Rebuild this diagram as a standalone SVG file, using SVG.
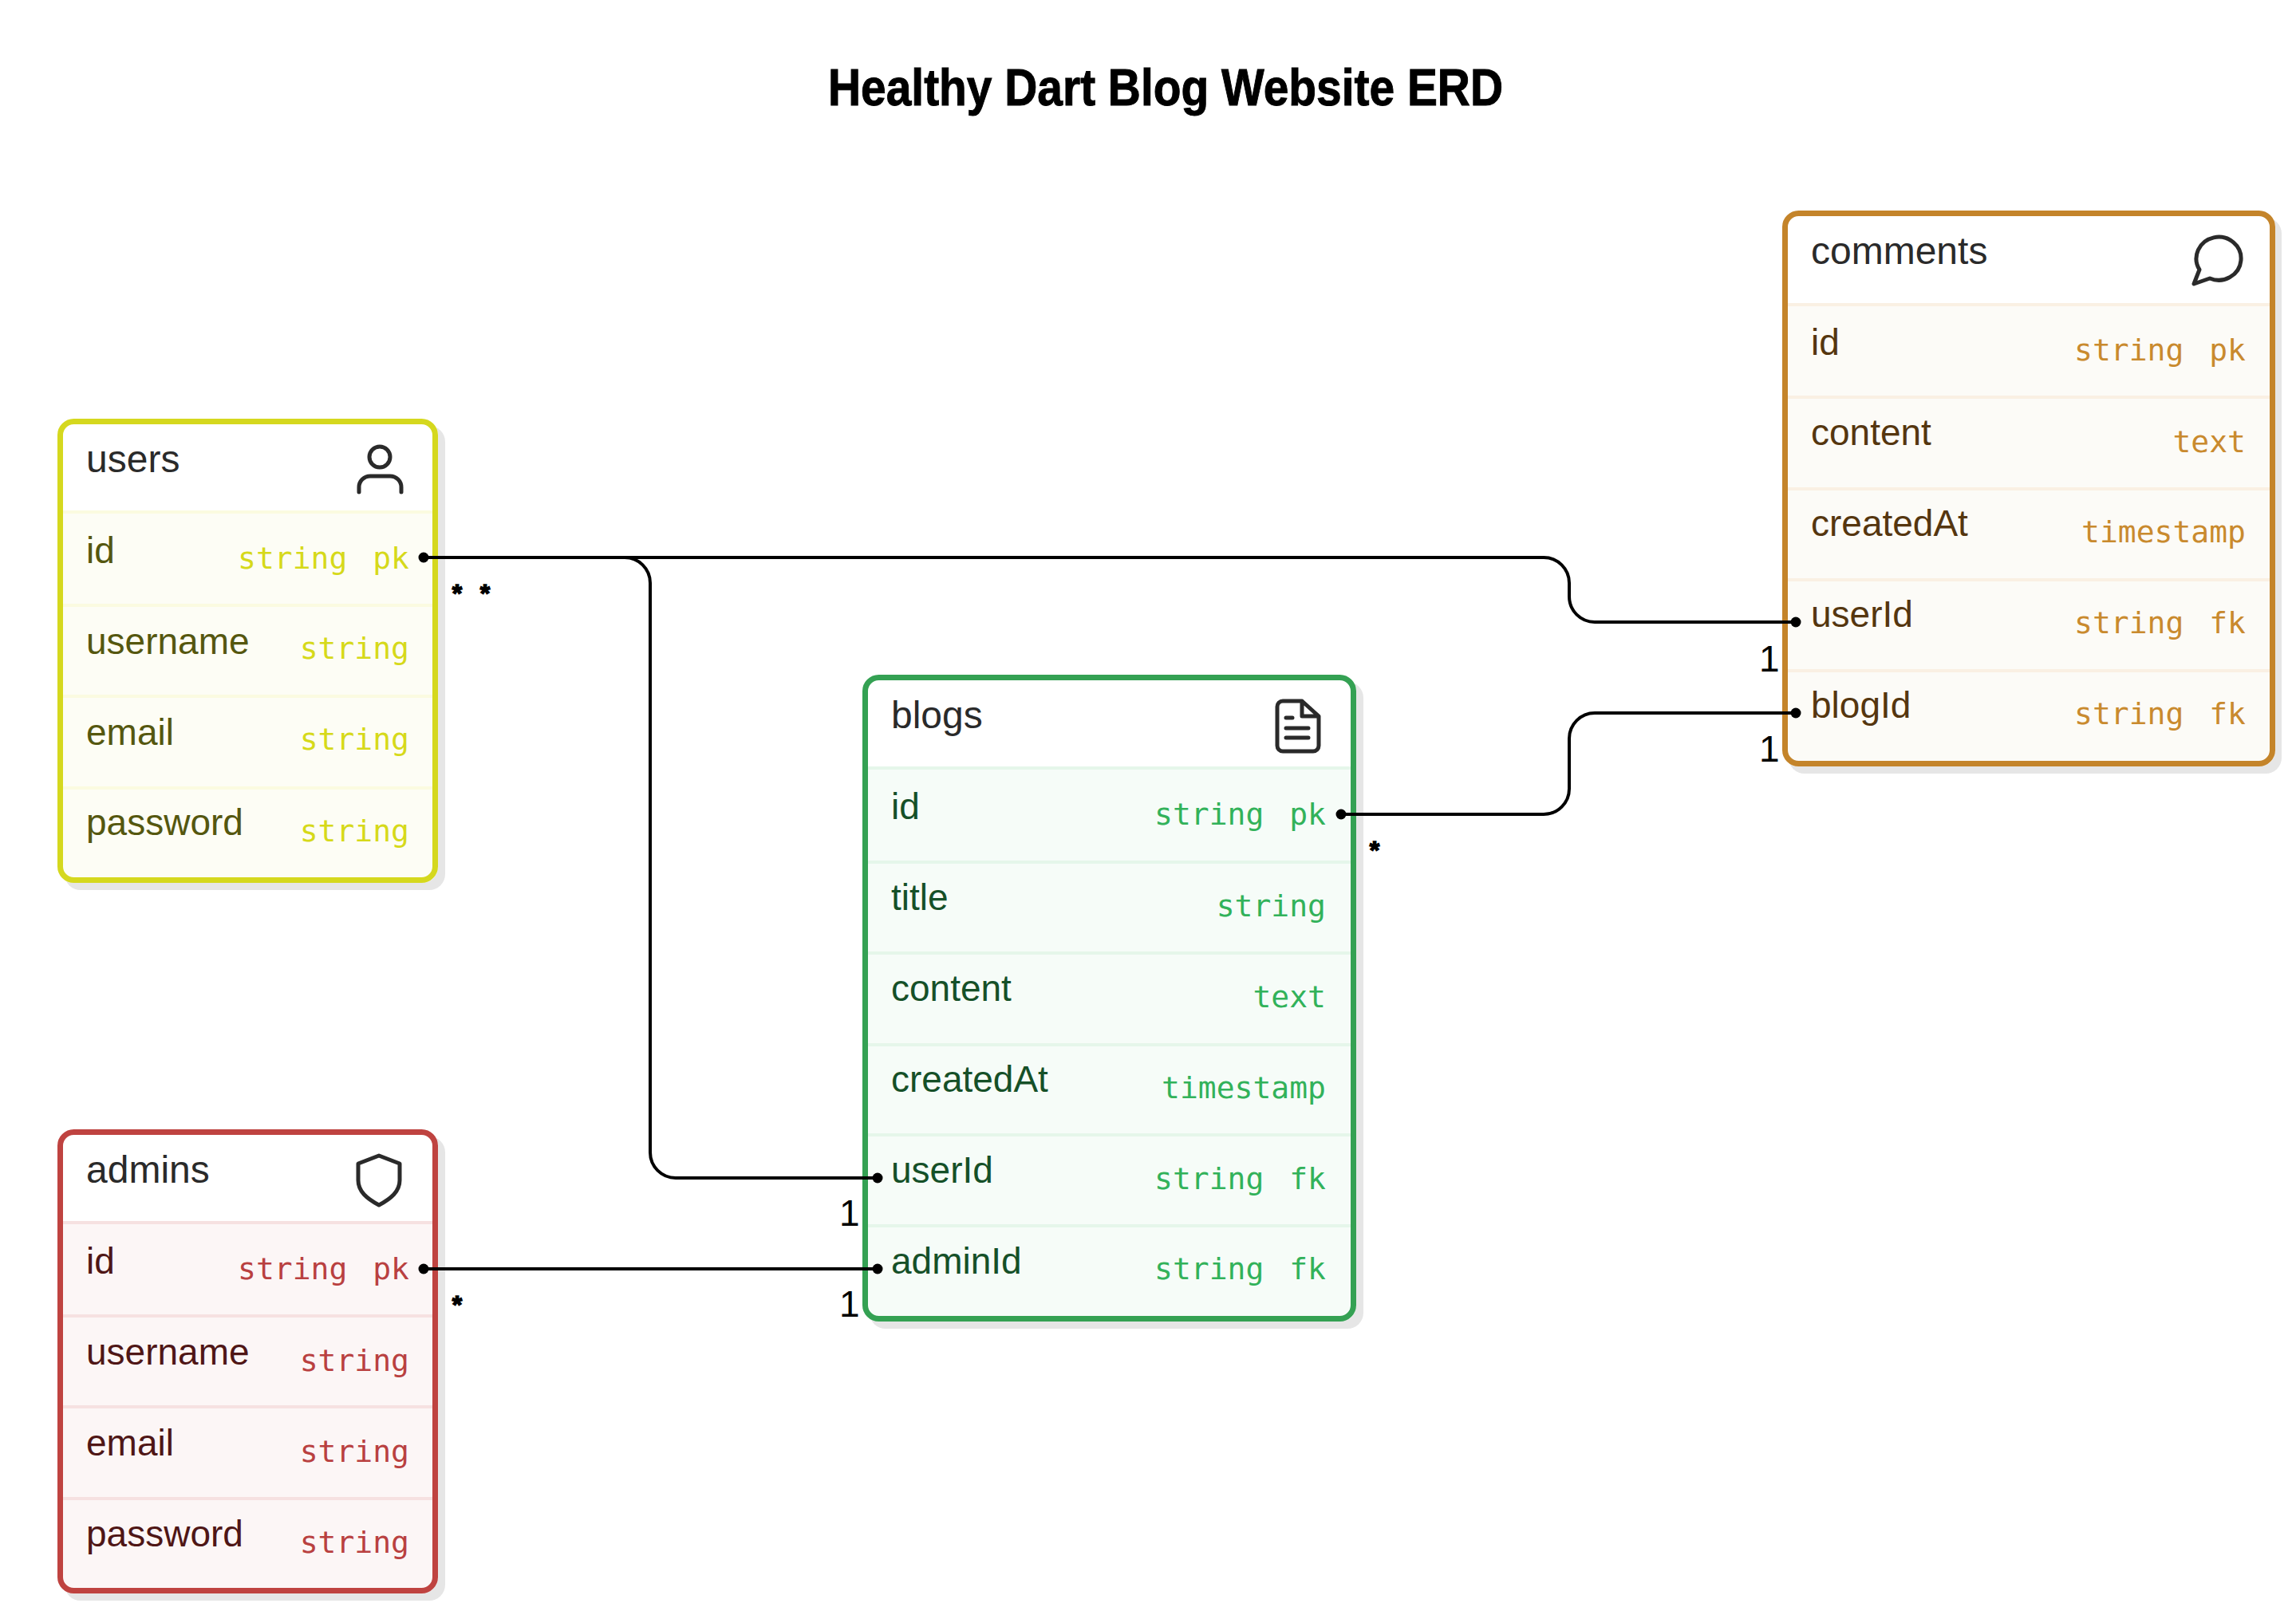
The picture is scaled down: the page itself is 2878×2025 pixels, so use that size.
<svg xmlns="http://www.w3.org/2000/svg" width="2878" height="2025" viewBox="0 0 2878 2025">
<style>
.bg{fill:#fff}
.shadow{fill:#e6e6e6}
.frame{fill:none;stroke-width:7}
.title{font:bold 64px "Liberation Sans",Arial,sans-serif;fill:#000;stroke:#000;stroke-width:1;text-anchor:middle}
.head{font:48px "Liberation Sans",Arial,sans-serif;fill:#2a2a2a}
.name{font:46px "Liberation Sans",Arial,sans-serif}
.type{font:38px "DejaVu Sans Mono",monospace;text-anchor:end;word-spacing:9px}
.card{font:46px "Liberation Sans",Arial,sans-serif;fill:#000}
.star{font:bold 32px "Liberation Sans",Arial,sans-serif;fill:#000;stroke:#000;stroke-width:1.5;text-anchor:middle}
.conn{fill:none;stroke:#000;stroke-width:4}
.dot{fill:#000}
.icon{fill:none;stroke:#2a2a2a;stroke-width:5;stroke-linecap:round;stroke-linejoin:round}
.users .row{fill:#fdfdf5}.users .sep{fill:#fbfbe0}.users .frame{stroke:#d5d81e}.users .name{fill:#55570f}.users .type{fill:#d6d91a}
.admins .row{fill:#fcf6f6}.admins .sep{fill:#f6e1e1}.admins .frame{stroke:#bf4340}.admins .name{fill:#4f1616}.admins .type{fill:#b94040}
.blogs .row{fill:#f6fcf8}.blogs .sep{fill:#e5f6ea}.blogs .frame{stroke:#34a153}.blogs .name{fill:#155028}.blogs .type{fill:#32b25a}
.comments .row{fill:#fcfbf7}.comments .sep{fill:#faf0e3}.comments .frame{stroke:#c4842a}.comments .name{fill:#55360f}.comments .type{fill:#c98a2e}
</style>
<rect width="2878" height="2025" fill="#fff"/>
<text class="title" x="1461" y="132" textLength="846" lengthAdjust="spacingAndGlyphs">Healthy Dart Blog Website ERD</text>

<g id="users" class="users">
<rect class="shadow" x="81" y="534" width="477" height="582" rx="20"/>
<rect class="bg" x="72" y="525" width="477" height="582" rx="20"/>
<path class="row" d="M76 643H545V1083a20 20 0 0 1-20 20H96a20 20 0 0 1-20-20Z"/>
<rect class="sep" x="76" y="640" width="469" height="4"/><rect class="sep" x="76" y="757" width="469" height="4"/><rect class="sep" x="76" y="871" width="469" height="4"/><rect class="sep" x="76" y="986" width="469" height="4"/>
<rect class="frame" x="75.500" y="528.500" width="470" height="575" rx="17"/>
<text class="head" x="108" y="592">users</text>
<circle class="icon" cx="476" cy="573" r="13"/><path class="icon" d="M450 617v-6a14 14 0 0 1 14-14h25a14 14 0 0 1 14 14v6"/>
<text class="name" x="108" y="706">id</text><text class="type" x="513" y="713">string pk</text>
<text class="name" x="108" y="820">username</text><text class="type" x="513" y="826">string</text>
<text class="name" x="108" y="934">email</text><text class="type" x="513" y="940">string</text>
<text class="name" x="108" y="1047">password</text><text class="type" x="513" y="1055">string</text>
</g>

<g id="admins" class="admins">
<rect class="shadow" x="81" y="1425" width="477" height="582" rx="20"/>
<rect class="bg" x="72" y="1416" width="477" height="582" rx="20"/>
<path class="row" d="M76 1534H545V1974a20 20 0 0 1-20 20H96a20 20 0 0 1-20-20Z"/>
<rect class="sep" x="76" y="1531" width="469" height="4"/><rect class="sep" x="76" y="1648" width="469" height="4"/><rect class="sep" x="76" y="1762" width="469" height="4"/><rect class="sep" x="76" y="1877" width="469" height="4"/>
<rect class="frame" x="75.500" y="1419.500" width="470" height="575" rx="17"/>
<text class="head" x="108" y="1483">admins</text>
<path class="icon" d="M475 1449l26 10v21c0 14-11 23-26 31c-15-8-26-17-26-31v-21Z"/>
<text class="name" x="108" y="1597">id</text><text class="type" x="513" y="1604">string pk</text>
<text class="name" x="108" y="1711">username</text><text class="type" x="513" y="1719">string</text>
<text class="name" x="108" y="1825">email</text><text class="type" x="513" y="1833">string</text>
<text class="name" x="108" y="1939">password</text><text class="type" x="513" y="1947">string</text>
</g>

<g id="blogs" class="blogs">
<rect class="shadow" x="1090" y="855" width="619" height="811" rx="20"/>
<rect class="bg" x="1081" y="846" width="619" height="811" rx="20"/>
<path class="row" d="M1085 964H1696V1633a20 20 0 0 1-20 20H1105a20 20 0 0 1-20-20Z"/>
<rect class="sep" x="1085" y="961" width="611" height="4"/><rect class="sep" x="1085" y="1079" width="611" height="4"/><rect class="sep" x="1085" y="1193" width="611" height="4"/><rect class="sep" x="1085" y="1308" width="611" height="4"/><rect class="sep" x="1085" y="1421" width="611" height="4"/><rect class="sep" x="1085" y="1535" width="611" height="4"/>
<rect class="frame" x="1084.500" y="849.500" width="612" height="804" rx="17"/>
<text class="head" x="1117" y="913">blogs</text>
<path class="icon" d="M1632 879h-24a7 7 0 0 0-7 7v49a7 7 0 0 0 7 7h38a7 7 0 0 0 7-7V898ZM1632 879v19h19M1612 900h8M1612 913h28M1612 925h28"/>
<text class="name" x="1117" y="1027">id</text><text class="type" x="1662" y="1034">string pk</text>
<text class="name" x="1117" y="1141">title</text><text class="type" x="1662" y="1149">string</text>
<text class="name" x="1117" y="1255">content</text><text class="type" x="1662" y="1263">text</text>
<text class="name" x="1117" y="1369">createdAt</text><text class="type" x="1662" y="1377">timestamp</text>
<text class="name" x="1117" y="1483">userId</text><text class="type" x="1662" y="1491">string fk</text>
<text class="name" x="1117" y="1597">adminId</text><text class="type" x="1662" y="1604">string fk</text>
</g>

<g id="comments" class="comments">
<rect class="shadow" x="2242" y="273" width="618" height="697" rx="20"/>
<rect class="bg" x="2234" y="264" width="618" height="697" rx="20"/>
<path class="row" d="M2238 382H2848V937a20 20 0 0 1-20 20H2258a20 20 0 0 1-20-20Z"/>
<rect class="sep" x="2238" y="380" width="610" height="4"/><rect class="sep" x="2238" y="496" width="610" height="4"/><rect class="sep" x="2238" y="611" width="610" height="4"/><rect class="sep" x="2238" y="725" width="610" height="4"/><rect class="sep" x="2238" y="839" width="610" height="4"/>
<rect class="frame" x="2237.500" y="267.500" width="611" height="690" rx="17"/>
<text class="head" x="2270" y="331">comments</text>
<path class="icon" d="M2750 356L2757 338A28 27 0 1 1 2770 349Z"/>
<text class="name" x="2270" y="445">id</text><text class="type" x="2815" y="452">string pk</text>
<text class="name" x="2270" y="558">content</text><text class="type" x="2815" y="567">text</text>
<text class="name" x="2270" y="672">createdAt</text><text class="type" x="2815" y="680">timestamp</text>
<text class="name" x="2270" y="786">userId</text><text class="type" x="2815" y="794">string fk</text>
<text class="name" x="2270" y="900">blogId</text><text class="type" x="2815" y="908">string fk</text>
</g>

<g id="connectors">
<path class="conn" d="M531 699H1935a32 32 0 0 1 32 32v17a32 32 0 0 0 32 32H2251"/>
<path class="conn" d="M531 699H783a32 32 0 0 1 32 32V1445a32 32 0 0 0 32 32H1100"/>
<path class="conn" d="M531 1591H1100"/>
<path class="conn" d="M1681 1021H1935a32 32 0 0 0 32-32V926a32 32 0 0 1 32-32H2251"/>
<circle class="dot" cx="531" cy="699" r="6.500"/><circle class="dot" cx="531" cy="1591" r="6.500"/><circle class="dot" cx="1681" cy="1021" r="6.500"/><circle class="dot" cx="1100" cy="1477" r="6.500"/><circle class="dot" cx="1100" cy="1591" r="6.500"/><circle class="dot" cx="2251" cy="780" r="6.500"/><circle class="dot" cx="2251" cy="894" r="6.500"/>
<text class="star" x="573" y="755">*</text><text class="star" x="608" y="755">*</text><text class="star" x="1723" y="1077">*</text><text class="star" x="573" y="1647">*</text>
<text class="card" x="2205" y="842">1</text><text class="card" x="2205" y="955">1</text><text class="card" x="1052" y="1537">1</text><text class="card" x="1052" y="1651">1</text>
</g>
</svg>
